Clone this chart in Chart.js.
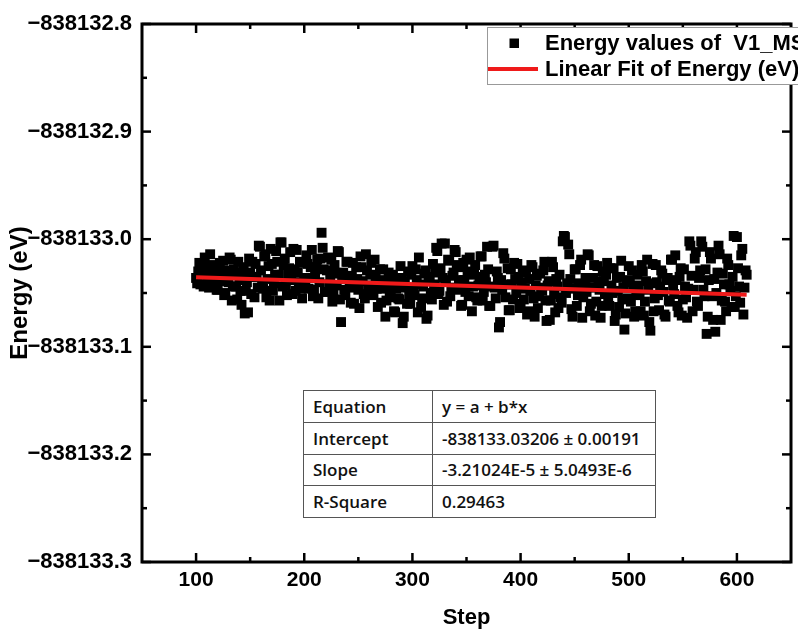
<!DOCTYPE html>
<html><head><meta charset="utf-8">
<script src="https://cdn.jsdelivr.net/npm/chart.js@4/dist/chart.umd.min.js"></script>
<style>
html,body{margin:0;padding:0;background:#fff;}
#wrap{position:relative;width:798px;height:629px;overflow:hidden;background:#fff;}
canvas{position:absolute;left:0;top:0;}
#fit{position:absolute;left:303px;top:390px;width:353px;border-collapse:collapse;font-family:'Open Sans',sans-serif;font-weight:600;font-size:17px;color:#111;background:#fff;}
#fit td{border:1px solid #555;height:31.75px;padding:0 0 0 9px;box-sizing:border-box;white-space:nowrap;}
#fit td:first-child{width:129px;}
</style></head>
<body><div id="wrap"><canvas id="c" width="798" height="629"></canvas>
<table id="fit"></table></div>
<script>
// ---- data ----
const firstStep = 100;
const stepInterval = 1;
const energy = [
-838133.036,-838133.041,-838133.030,-838133.022,-838133.042,-838133.033,-838133.028,-838133.044,-838133.017,-838133.025,-838133.033,-838133.038,-838133.045,-838133.014,-838133.024,-838133.042,-838133.038,-838133.030,-838133.031,-838133.047,
-838133.047,-838133.026,-838133.022,-838133.039,-838133.035,-838133.020,-838133.052,-838133.050,-838133.029,-838133.036,-838133.040,-838133.017,-838133.019,-838133.057,-838133.044,-838133.028,-838133.033,-838133.044,-838133.056,-838133.021,
-838133.038,-838133.048,-838133.061,-838133.031,-838133.026,-838133.069,-838133.048,-838133.040,-838133.068,-838133.018,-838133.031,-838133.051,-838133.021,-838133.035,-838133.054,-838133.023,-838133.035,-838133.045,-838133.006,-838133.007,
-838133.029,-838133.041,-838133.046,-838133.016,-838133.014,-838133.054,-838133.037,-838133.025,-838133.057,-838133.009,-838133.023,-838133.048,-838133.041,-838133.033,-838133.011,-838133.021,-838133.033,-838133.057,-838133.003,-838133.003,
-838133.044,-838133.024,-838133.018,-838133.043,-838133.052,-838133.033,-838133.027,-838133.012,-838133.038,-838133.051,-838133.009,-838133.028,-838133.048,-838133.010,-838133.031,-838133.040,-838133.021,-838133.046,-838133.055,-838133.022,
-838133.036,-838133.044,-838133.015,-838133.023,-838133.046,-838133.036,-838133.026,-838133.010,-838133.053,-838133.047,-838133.033,-838133.026,-838133.019,-838133.055,-838133.040,-838133.018,-838132.994,-838133.008,-838133.028,-838133.049,
-838133.049,-838133.029,-838133.017,-838133.042,-838133.037,-838133.019,-838133.058,-838133.050,-838133.024,-838133.032,-838133.043,-838133.011,-838133.012,-838133.056,-838133.077,-838133.037,-838133.031,-838133.047,-838133.052,-838133.021,
-838133.021,-838133.035,-838133.045,-838133.059,-838133.034,-838133.022,-838133.060,-838133.043,-838133.026,-838133.037,-838133.047,-838133.064,-838133.016,-838133.026,-838133.039,-838133.051,-838133.055,-838133.014,-838133.029,-838133.046,
-838133.043,-838133.033,-838133.022,-838133.052,-838133.051,-838133.019,-838133.035,-838133.046,-838133.063,-838133.040,-838133.028,-838133.059,-838133.046,-838133.028,-838133.038,-838133.072,-838133.057,-838133.043,-838133.031,-838133.054,
-838133.049,-838133.036,-838133.033,-838133.067,-838133.068,-838133.046,-838133.041,-838133.055,-838133.056,-838133.025,-838133.036,-838133.078,-838133.072,-838133.039,-838133.045,-838133.060,-838133.030,-838133.051,-838133.060,-838133.033,
-838133.025,-838133.048,-838133.052,-838133.028,-838133.038,-838133.068,-838133.017,-838133.042,-838133.063,-838133.055,-838133.044,-838133.032,-838133.029,-838133.074,-838133.071,-838133.037,-838133.035,-838133.050,-838133.056,-838133.023,
-838133.042,-838133.031,-838133.008,-838133.011,-838133.051,-838133.048,-838133.027,-838133.004,-838133.036,-838133.061,-838133.004,-838133.038,-838133.058,-838133.019,-838133.020,-838133.053,-838133.045,-838133.034,-838133.031,-838133.010,
-838133.012,-838133.024,-838133.047,-838133.038,-838133.026,-838133.062,-838133.061,-838133.022,-838133.038,-838133.049,-838133.019,-838133.030,-838133.053,-838133.017,-838133.033,-838133.067,-838133.044,-838133.032,-838133.024,-838133.054,
-838133.057,-838133.043,-838133.035,-838133.016,-838133.016,-838133.057,-838133.049,-838133.033,-838133.040,-838133.007,-838133.028,-838133.062,-838133.062,-838133.044,-838133.007,-838133.006,-838133.045,-838133.055,-838133.030,-838133.036,
-838133.082,-838133.077,-838133.038,-838133.047,-838133.013,-838133.018,-838133.054,-838133.042,-838133.027,-838133.066,-838133.066,-838133.028,-838133.042,-838133.056,-838133.022,-838133.037,-838133.050,-838133.023,-838133.035,-838133.064,
-838133.060,-838133.040,-838133.029,-838133.056,-838133.046,-838133.031,-838133.070,-838133.067,-838133.037,-838133.048,-838133.024,-838133.026,-838133.055,-838133.072,-838133.043,-838133.034,-838133.064,-838133.053,-838133.032,-838133.045,
-838133.048,-838133.029,-838133.021,-838133.057,-838133.076,-838133.043,-838133.039,-838133.075,-838133.057,-838133.021,-838133.026,-838133.051,-838133.068,-838133.037,-838133.044,-838133.064,-838133.033,-838133.054,-838133.059,-838133.002,
-838132.997,-838132.998,-838133.050,-838133.041,-838133.005,-838133.014,-838133.037,-838133.065,-838133.072,-838133.046,-838133.028,-838133.028,-838133.062,-838133.052,-838133.041,-838133.024,-838133.019,-838133.073,-838133.054,-838133.043,
-838133.036,-838133.049,-838133.014,-838133.015,-838133.067,-838133.060,-838133.045,-838133.036,-838133.024,-838133.071,-838133.058,-838133.025,-838133.039,-838133.047,-838133.073,-838133.062,-838133.030,-838133.039,-838133.051,-838133.033,
-838133.022,-838133.056,-838133.062,-838133.027,-838133.043,-838133.050,-838133.027,-838133.076,-838133.070,-838133.036,-838133.048,-838133.063,-838133.035,-838133.020,-838133.056,-838133.045,-838133.084,-838133.069,-838133.040,-838133.055,
-838133.025,-838133.038,-838133.058,-838133.029,-838133.044,-838133.072,-838133.067,-838133.051,-838133.033,-838133.043,-838133.052,-838133.067,-838133.024,-838133.030,-838133.071,-838133.058,-838133.039,-838133.019,-838133.047,-838133.077,
-838133.085,-838133.041,-838133.023,-838133.067,-838133.055,-838133.024,-838133.040,-838133.052,-838133.066,-838133.044,-838133.029,-838133.032,-838133.049,-838133.070,-838133.072,-838133.038,-838133.036,-838133.057,-838133.058,-838133.019,
-838133.019,-838133.043,-838133.051,-838133.015,-838133.038,-838133.062,-838133.068,-838133.035,-838133.027,-838133.071,-838133.056,-838133.028,-838133.044,-838133.054,-838133.073,-838133.046,-838133.002,-838133.006,-838133.034,-838133.067,
-838133.047,-838133.018,-838133.012,-838133.058,-838133.062,-838133.036,-838133.029,-838133.002,-838133.007,-838133.047,-838133.053,-838133.028,-838133.088,-838133.072,-838133.038,-838133.012,-838133.018,-838133.053,-838133.075,-838133.037,
-838133.086,-838133.050,-838133.031,-838133.006,-838133.014,-838133.075,-838133.057,-838133.032,-838133.042,-838133.058,-838133.067,-838133.018,-838133.024,-838133.042,-838133.048,-838133.063,-838133.035,-838132.997,-838133.063,-838133.053,
-838132.998,-838133.027,-838133.044,-838133.059,-838133.015,-838133.009,-838133.070,-838133.045,-838133.029,-838133.033
];
const steps = energy.map((_, i) => firstStep + i * stepInterval);

const fitIntercept = -838133.03206;
const fitSlope = -3.21024e-5;
const fitSteps = [100, 609];

const xTicks = [100, 200, 300, 400, 500, 600];
const xMinorTicks = [150, 250, 350, 450, 550];
const yTicks = [-838133.3, -838133.2, -838133.1, -838133.0, -838132.9, -838132.8];
const yMinorTicks = [-838133.25, -838133.15, -838133.05, -838132.95, -838132.85];

const seriesLabels = ['Energy values of  V1_MS', 'Linear Fit of Energy (eV)'];
const tableLabels = ['Equation', 'Intercept', 'Slope', 'R-Square'];
const tableValues = ['y = a + b*x', '-838133.03206 \u00b1 0.00191', '-3.21024E-5 \u00b1 5.0493E-6', '0.29463'];

// ---- table ----
const tbl = document.getElementById('fit');
tableLabels.forEach((lab, i) => {
  const tr = document.createElement('tr');
  const a = document.createElement('td'); a.textContent = lab;
  const b = document.createElement('td'); b.textContent = tableValues[i];
  tr.appendChild(a); tr.appendChild(b); tbl.appendChild(tr);
});

// ---- chart ----
const NARROW = "'Liberation Sans Narrow','Arial Narrow','Liberation Sans',Arial,sans-serif";
const SANS = "'Liberation Sans',Arial,sans-serif";
const RED = '#ef1a1a';

const framePlugin = {
  id: 'frame',
  afterDatasetsDraw(chart) {
    const {ctx, chartArea: a, scales: {x, y}} = chart;
    ctx.save();
    ctx.strokeStyle = '#000';
    ctx.lineCap = 'butt';
    const seg = (x1, y1, x2, y2) => { ctx.beginPath(); ctx.moveTo(x1, y1); ctx.lineTo(x2, y2); ctx.stroke(); };
    ctx.lineWidth = 2.5;
    const maj = 9, min = 5;
    xTicks.forEach(v => { const p = x.getPixelForValue(v); seg(p, a.top, p, a.top + maj); seg(p, a.bottom, p, a.bottom - maj); });
    xMinorTicks.forEach(v => { const p = x.getPixelForValue(v); seg(p, a.top, p, a.top + min); seg(p, a.bottom, p, a.bottom - min); });
    yTicks.forEach(v => { const p = y.getPixelForValue(v); seg(a.left, p, a.left + maj, p); seg(a.right, p, a.right - maj, p); });
    yMinorTicks.forEach(v => { const p = y.getPixelForValue(v); seg(a.left, p, a.left + min, p); seg(a.right, p, a.right - min, p); });
    ctx.lineWidth = 3;
    ctx.strokeRect(a.left, a.top, a.right - a.left, a.bottom - a.top);
    ctx.restore();
  }
};

const legendPlugin = {
  id: 'boxLegend',
  afterDraw(chart) {
    const ctx = chart.ctx;
    const ds = chart.data.datasets;
    ctx.save();
    ctx.fillStyle = '#fff';
    ctx.fillRect(487, 27, 340, 57);
    ctx.strokeStyle = '#999';
    ctx.lineWidth = 1;
    ctx.strokeRect(487.5, 27.5, 340, 57);
    ctx.fillStyle = ds[1].pointBackgroundColor;
    ctx.fillRect(509.5, 38.5, 9.5, 9.5);
    ctx.strokeStyle = ds[0].borderColor;
    ctx.lineWidth = 4;
    ctx.beginPath(); ctx.moveTo(488, 69); ctx.lineTo(538, 69); ctx.stroke();
    ctx.fillStyle = '#000';
    ctx.font = "bold 22px " + SANS;
    ctx.textBaseline = 'middle';
    ctx.textAlign = 'left';
    ctx.fillText(ds[1].label, 545, 44);
    ctx.fillText(ds[0].label, 545, 70);
    ctx.restore();
  }
};

new Chart(document.getElementById('c'), {
  type: 'scatter',
  data: {
    datasets: [
      {
        label: seriesLabels[1],
        data: fitSteps.map(s => ({x: s, y: fitIntercept + fitSlope * s})),
        showLine: true, borderColor: RED, borderWidth: 4, pointRadius: 0, fill: false, order: 0
      },
      {
        label: seriesLabels[0],
        data: steps.map((s, i) => ({x: s, y: energy[i]})),
        pointStyle: 'rect', pointRadius: 7, pointBackgroundColor: '#000', pointBorderWidth: 0,
        showLine: false, order: 1
      }
    ]
  },
  options: {
    responsive: false, animation: false, devicePixelRatio: 1,
    layout: {padding: {top: 24, right: 1, bottom: 0, left: 0}},
    plugins: {legend: {display: false}, tooltip: {enabled: false}},
    scales: {
      x: {
        type: 'linear', min: 50, max: 650,
        grid: {display: false, drawTicks: false}, border: {display: false},
        afterBuildTicks: s => { s.ticks = xTicks.map(v => ({value: v})); },
        afterFit: s => { s.height = 67; },
        ticks: {padding: 6, color: '#000', autoSkip: false, maxRotation: 0,
                font: {family: NARROW, weight: 'bold', size: 21}, callback: v => String(v)},
        title: {display: true, text: 'Step', color: '#000', padding: {top: 0, bottom: 0},
                font: {family: SANS, weight: 'bold', size: 22, lineHeight: 1.0}}
      },
      y: {
        type: 'linear', min: -838133.3, max: -838132.8,
        grid: {display: false, drawTicks: false}, border: {display: false},
        afterBuildTicks: s => { s.ticks = yTicks.map(v => ({value: v})); },
        afterFit: s => { s.width = 142; },
        ticks: {padding: 10, color: '#000', autoSkip: false,
                font: {family: NARROW, weight: 'bold', size: 22},
                callback: v => '\u2212' + Math.abs(v).toFixed(1)},
        title: {display: true, text: 'Energy (eV)', color: '#000', padding: {top: 7, bottom: 0},
                font: {family: SANS, weight: 'bold', size: 24, lineHeight: 1.1}}
      }
    }
  },
  plugins: [framePlugin, legendPlugin]
});
</script>
</body></html>
